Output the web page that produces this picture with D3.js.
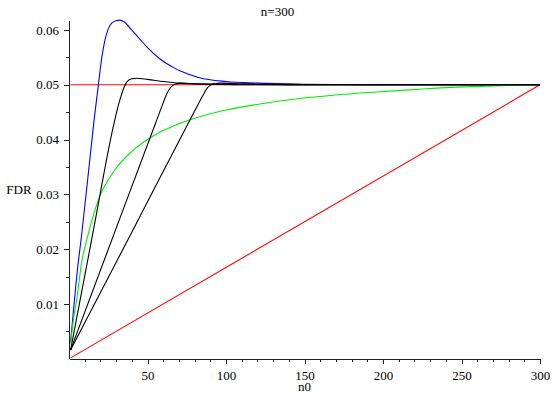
<!DOCTYPE html>
<html>
<head>
<meta charset="utf-8">
<script src="https://cdn.jsdelivr.net/npm/d3@7"></script>
<style>
  body { margin: 0; background: #fff; }
  svg { display: block; font-family: "Liberation Serif", "DejaVu Serif", serif; }
  .axis path, .axis line { stroke: #222; shape-rendering: crispEdges; }
  .axis text { font-family: "Liberation Serif", serif; font-size: 13px; fill: #000; }
  .curve { fill: none; stroke-width: 1.1; }
</style>
</head>
<body>
<svg id="chart"></svg>
<script>
// values (n0, FDR)
const blueN = [1, 3, 5, 8, 12, 16, 18.7, 21, 23, 25, 27, 30, 32.5, 35, 40, 45, 50, 58, 67.5, 71, 83, 100, 120, 150, 200, 250, 300];
const blueF = [0.003, 0.0093, 0.0153, 0.0225, 0.033, 0.0436, 0.05, 0.0552, 0.0583, 0.0602, 0.0612, 0.0617, 0.0618, 0.0615, 0.060, 0.0584, 0.0568, 0.0547, 0.0530, 0.0525, 0.0513, 0.0506, 0.0503, 0.0501, 0.05, 0.05, 0.05];

const black1N = [1, 15, 28, 31, 33, 35, 37, 40, 43, 50, 60, 70, 90, 120, 300];
const black1F = [0.0016, 0.0226, 0.0421, 0.0458, 0.0478, 0.0495, 0.0506, 0.0511, 0.0512, 0.051, 0.0506, 0.0503, 0.0501, 0.05, 0.05];

const black2N = [1, 30, 55, 60, 62.5, 65, 67.5, 71, 80, 100, 150, 300];
const black2F = [0.0016, 0.0238, 0.0429, 0.0467, 0.0485, 0.0496, 0.0501, 0.0503, 0.0502, 0.0501, 0.05, 0.05];

const black3N = [1, 40, 80, 85, 88, 90, 92, 97, 110, 150, 300];
const black3F = [0.0016, 0.0231, 0.0452, 0.0479, 0.0494, 0.0499, 0.0502, 0.0503, 0.0502, 0.05, 0.05];

const greenN = [1, 3, 5, 8.1, 11.3, 18.7, 29.3, 39.9, 50.5, 58, 67.5, 79, 100, 121.6, 147, 168, 196, 223.5, 234, 270, 300];
const greenF = [0.0028, 0.0075, 0.011, 0.0177, 0.0217, 0.029, 0.0345, 0.0378, 0.0401, 0.0414, 0.0426, 0.0438, 0.0454, 0.0465, 0.0475, 0.0481, 0.0487, 0.0492, 0.0494, 0.0498, 0.05];

const levelN = [1, 300];
const levelF = [0.05, 0.05];
const diagN = [1, 300];
const diagF = [0.000167, 0.05];

const xMajor = [50, 100, 150, 200, 250, 300];
const xMinor = d3.range(10, 301, 10);
const yMajor = [0.01, 0.02, 0.03, 0.04, 0.05, 0.06];
const yMinor = [0.005, 0.015, 0.025, 0.035, 0.045, 0.055];

const width = 555, height = 397;

const svg = d3.select('#chart')
  .attr('width', width)
  .attr('height', height);

// scales
const x = d3.scaleLinear().domain([0, 300]).range([69, 540]);
const y = d3.scaleLinear().domain([0, 0.0617]).range([358.8, 20.7]);

// axes
svg.append('g')
  .attr('class', 'axis')
  .attr('transform', `translate(0, ${y(0)})`)
  .call(d3.axisBottom(x).tickValues(xMinor).tickSize(3).tickSizeOuter(0).tickFormat(''));

svg.append('g')
  .attr('class', 'axis')
  .attr('transform', `translate(0, ${y(0)})`)
  .call(d3.axisBottom(x).tickValues(xMajor).tickSize(5).tickSizeOuter(0).tickPadding(7).tickFormat(d3.format('d')));

svg.append('g')
  .attr('class', 'axis')
  .attr('transform', `translate(${x(0)}, 0)`)
  .call(d3.axisLeft(y).tickValues(yMinor).tickSize(3).tickSizeOuter(0).tickFormat(''));

svg.append('g')
  .attr('class', 'axis')
  .attr('transform', `translate(${x(0)}, 0)`)
  .call(d3.axisLeft(y).tickValues(yMajor).tickSize(5).tickSizeOuter(0).tickPadding(5).tickFormat(d3.format('.2f')));

// curves
const line = d3.line()
  .x((d) => x(d[0]))
  .y((d) => y(d[1]))
  .curve(d3.curveMonotoneX);

const series = [
  [levelN, levelF, '#ff0000'],
  [diagN, diagF, '#ff0000'],
  [blueN, blueF, '#0000ff'],
  [greenN, greenF, '#00ee00'],
  [black1N, black1F, '#000'],
  [black2N, black2F, '#000'],
  [black3N, black3F, '#000']
];

series.forEach(([ns, fs, color]) => {
  svg.append('path')
    .datum(ns.map((n, i) => [n, fs[i]]))
    .attr('class', 'curve')
    .attr('stroke', color)
    .attr('d', line);
});

// titles
svg.append('text')
  .attr('x', width / 2)
  .attr('y', 16)
  .attr('text-anchor', 'middle')
  .style('font-size', '13px')
  .text('n=300');

svg.append('text')
  .attr('x', 19)
  .attr('y', 194)
  .attr('text-anchor', 'middle')
  .style('font-size', '13px')
  .text('FDR');

svg.append('text')
  .attr('x', (x(0) + x(300)) / 2)
  .attr('y', 391)
  .attr('text-anchor', 'middle')
  .style('font-size', '13px')
  .text('n0');
</script>
</body>
</html>
